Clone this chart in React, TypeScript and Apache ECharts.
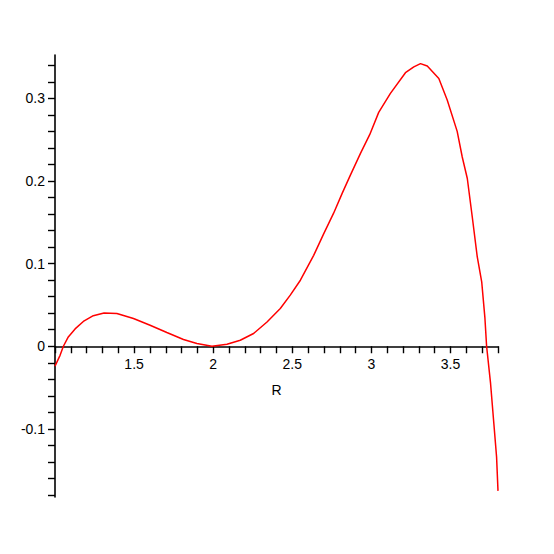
import React, { useEffect, useRef } from "react";
import * as echarts from "echarts";

const rValues: number[] = [
  1.0, 1.032, 1.053, 1.084, 1.127, 1.179, 1.242, 1.31, 1.391, 1.496, 1.601, 1.707, 1.812, 1.897,
  1.992, 2.087, 2.171, 2.255, 2.34, 2.424, 2.487, 2.551, 2.635, 2.698, 2.761, 2.815, 2.867, 2.93,
  2.989, 3.046, 3.12, 3.215, 3.268, 3.31, 3.353, 3.426, 3.479, 3.542, 3.574, 3.606, 3.637,
  3.669, 3.697, 3.717, 3.728, 3.753, 3.774, 3.791, 3.8,
];
const fValues: number[] = [
  -0.024, -0.011, 0, 0.0113, 0.021, 0.03, 0.037, 0.0403, 0.0396, 0.0335, 0.0254, 0.0166, 0.0081,
  0.0033, 0, 0.0024, 0.0073, 0.0154, 0.0294, 0.0457, 0.0618, 0.0799, 0.11, 0.136, 0.161, 0.185,
  0.207, 0.233, 0.256, 0.283, 0.306, 0.331, 0.338, 0.342, 0.339, 0.324, 0.298, 0.26, 0.229,
  0.203, 0.157, 0.108, 0.078, 0.035, 0, -0.045, -0.094, -0.134, -0.175,
];

const xMin = 1;
const xMax = 3.8;
const yMin = -0.1824;
const yMax = 0.3524;
const xAxisName = "R";

const FONT = '"Liberation Sans", Helvetica, Arial, sans-serif';

const GRID_TOP = 55;
const GRID_BOTTOM = 57;
const CHART_H = 554;

function isMultiple(v: number, step: number): boolean {
  const q = v / step;
  return Math.abs(q - Math.round(q)) < 1e-6;
}

export default function App() {
  const ref = useRef<HTMLDivElement>(null);
  useEffect(() => {
    if (!ref.current) return;
    const chart = echarts.init(ref.current, undefined, { renderer: "svg" });
    const data = rValues.map((r, i) => [r, fValues[i]]);
    const gridH = CHART_H - GRID_TOP - GRID_BOTTOM;
    // distance from grid bottom up to y = 0, so the x axis sits on zero
    const zeroOffset = (gridH * (0 - yMin)) / (yMax - yMin);
    chart.setOption({
      animation: false,
      backgroundColor: "#ffffff",
      grid: { left: 55, right: 56, top: GRID_TOP, bottom: GRID_BOTTOM, containLabel: false },
      xAxis: {
        type: "value",
        min: xMin,
        max: xMax,
        interval: 0.1,
        position: "bottom",
        offset: -zeroOffset,
        name: xAxisName,
        nameLocation: "middle",
        nameGap: 37,
        nameTextStyle: { color: "#000", fontSize: 14, fontFamily: FONT },
        axisLine: { show: true, onZero: false, lineStyle: { color: "#000", width: 1.6 } },
        axisTick: { show: true, length: 7, lineStyle: { color: "#000", width: 1.4 } },
        splitLine: { show: false },
        axisLabel: {
          color: "#000",
          fontSize: 14,
          fontFamily: FONT,
          margin: 11,
          formatter: (v: number) =>
            isMultiple(v, 0.5) && Math.abs(v - 1) > 1e-6 ? String(Math.round(v * 10) / 10) : "",
        },
      },
      yAxis: {
        type: "value",
        min: yMin,
        max: yMax,
        minInterval: 0.02,
        maxInterval: 0.02,
        splitNumber: 27,
        axisLine: { show: true, onZero: false, lineStyle: { color: "#000", width: 1.6 } },
        axisTick: { show: true, length: 7, lineStyle: { color: "#000", width: 1.4 } },
        splitLine: { show: false },
        axisLabel: {
          color: "#000",
          fontSize: 14,
          fontFamily: FONT,
          margin: 10,
          showMinLabel: false,
          showMaxLabel: false,
          formatter: (v: number) =>
            isMultiple(v, 0.1) ? String(Math.round(v * 10) / 10) : "",
        },
      },
      series: [
        {
          type: "line",
          data,
          showSymbol: false,
          smooth: false,
          lineStyle: { color: "#ff0000", width: 1.5 },
          itemStyle: { color: "#ff0000" },
        },
      ],
    });
    return () => chart.dispose();
  }, []);
  return (
    <div
      ref={ref}
      style={{ position: "fixed", left: 0, top: 0, width: 554, height: 554, background: "#fff" }}
    />
  );
}
